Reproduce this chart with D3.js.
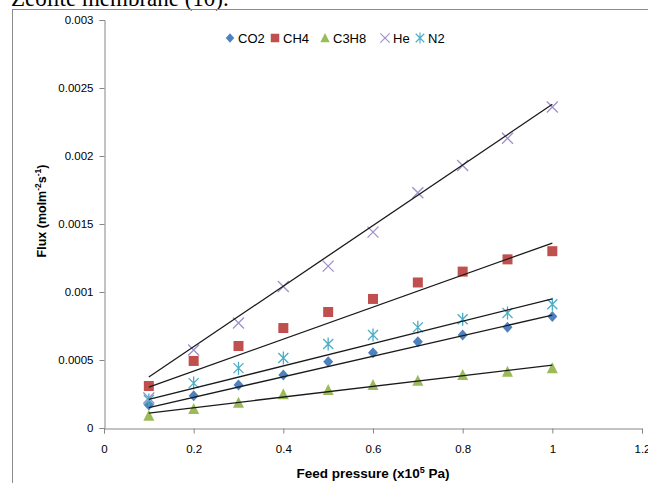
<!DOCTYPE html>
<html>
<head>
<meta charset="utf-8">
<script src="https://cdn.jsdelivr.net/npm/d3@7"></script>
<style>
  body { margin: 0; background: #fff; }
  svg { display: block; }
</style>
</head>
<body>
<script>
// Feed pressure (x10^5 Pa)
const pressure = [0.1, 0.2, 0.3, 0.4, 0.5, 0.6, 0.7, 0.8, 0.9, 1.0];

// Flux values (mol m-2 s-1)
const co2  = [0.000169, 0.000238, 0.000316, 0.00039, 0.000488, 0.000554, 0.000635, 0.000684, 0.00074, 0.000819];
const ch4  = [0.000309, 0.000493, 0.000603, 0.000735, 0.000853, 0.000949, 0.00107, 0.00115, 0.00124, 0.0013];
const c3h8 = [0.00009, 0.00014, 0.000186, 0.000248, 0.00028, 0.000316, 0.000348, 0.00039, 0.000414, 0.000439];
const he   = [0.00022, 0.000574, 0.000772, 0.00104, 0.00119, 0.00144, 0.00173, 0.00193, 0.00213, 0.00236];
const n2   = [0.000206, 0.00033, 0.00044, 0.000515, 0.000618, 0.000684, 0.00074, 0.0008, 0.000846, 0.00091];

// Linear trendline values at x = 0.1 and x = 1.0
const fitX = [0.1, 1.0];
const co2Fit  = [0.00015, 0.00083];
const ch4Fit  = [0.0003, 0.00136];
const c3h8Fit = [0.00011, 0.000463];
const heFit   = [0.000375, 0.00238];
const n2Fit   = [0.00021, 0.00095];

const seriesNames = ["CO2", "CH4", "C3H8", "He", "N2"];
const xTicks = [0, 0.2, 0.4, 0.6, 0.8, 1, 1.2];
const yTicks = [0, 0.0005, 0.001, 0.0015, 0.002, 0.0025, 0.003];

const series = [
  { name: "CO2",  values: co2,  fit: co2Fit,  shape: "diamond",  color: "#4F81BD" },
  { name: "CH4",  values: ch4,  fit: ch4Fit,  shape: "square",   color: "#C0504D" },
  { name: "C3H8", values: c3h8, fit: c3h8Fit, shape: "triangle", color: "#9BBB59" },
  { name: "He",   values: he,   fit: heFit,   shape: "x",        color: "#9F8FCB" },
  { name: "N2",   values: n2,   fit: n2Fit,   shape: "star",     color: "#4BACC6" }
];

const W = 648, H = 483;
const font = "'Liberation Sans', Arial, sans-serif";

const svg = d3.select("body").append("svg")
    .attr("width", W)
    .attr("height", H);

// Caption text from the page above, cut off at the top
svg.append("text")
    .attr("x", 11)
    .attr("y", 6)
    .style("font-family", "'Liberation Serif', 'Times New Roman', serif")
    .style("font-size", "23px")
    .text("Zeolite membrane (10).");

// Chart frame
svg.append("rect")
    .attr("x", 12.5)
    .attr("y", 9.5)
    .attr("width", 700)
    .attr("height", 600)
    .attr("fill", "none")
    .attr("stroke", "#8c8c8c")
    .attr("stroke-width", 1);

const x = d3.scaleLinear().domain([0, 1.2]).range([104, 642]);
const y = d3.scaleLinear().domain([0, 0.003]).range([428, 20]);

// Y axis
const yAxis = svg.append("g")
    .attr("transform", "translate(104.5,0)")
    .call(d3.axisLeft(y).tickValues(yTicks).tickSizeOuter(0).tickSize(5).tickPadding(6)
      .tickFormat(d => d3.format("")(+d.toFixed(4))));
yAxis.select(".domain").attr("stroke", "#868686");
yAxis.selectAll(".tick line").attr("stroke", "#868686");
yAxis.selectAll("text")
    .style("font-family", font)
    .style("font-size", "11.5px")
    .attr("fill", "#000");

// X axis
const xAxis = svg.append("g")
    .attr("transform", "translate(0,428.5)")
    .call(d3.axisBottom(x).tickValues(xTicks).tickSizeOuter(0).tickSize(5).tickPadding(11)
      .tickFormat(d3.format("")));
xAxis.select(".domain").attr("stroke", "#868686");
xAxis.selectAll(".tick line").attr("stroke", "#868686");
xAxis.selectAll("text")
    .style("font-family", font)
    .style("font-size", "11.5px")
    .attr("fill", "#000");

// Axis titles
const yTitle = svg.append("text")
    .attr("transform", "translate(46,211) rotate(-90)")
    .attr("text-anchor", "middle")
    .style("font-family", font)
    .style("font-size", "12.5px")
    .style("font-weight", "bold");
yTitle.append("tspan").text("Flux (molm");
yTitle.append("tspan").attr("dy", -5).style("font-size", "8.5px").text("-2");
yTitle.append("tspan").attr("dy", 5).text("s");
yTitle.append("tspan").attr("dy", -5).style("font-size", "8.5px").text("-1");
yTitle.append("tspan").attr("dy", 5).text(")");

const xTitle = svg.append("text")
    .attr("x", 373)
    .attr("y", 478)
    .attr("text-anchor", "middle")
    .style("font-family", font)
    .style("font-size", "13.5px")
    .style("font-weight", "bold");
xTitle.append("tspan").text("Feed pressure (x10");
xTitle.append("tspan").attr("dy", -5).style("font-size", "9px").text("5");
xTitle.append("tspan").attr("dy", 5).text(" Pa)");

// Marker drawing
function drawMarker(g, shape, color) {
  if (shape === "diamond") {
    g.append("path").attr("d", "M0,-5.5L5,0L0,5.5L-5,0Z").attr("fill", color);
  } else if (shape === "square") {
    g.append("rect").attr("x", -5).attr("y", -5).attr("width", 10).attr("height", 10).attr("fill", color);
  } else if (shape === "triangle") {
    g.append("path").attr("d", "M0,-6L5.5,5L-5.5,5Z").attr("fill", color);
  } else if (shape === "x") {
    g.append("path").attr("d", "M-5.5,-5.5L5.5,5.5M5.5,-5.5L-5.5,5.5")
        .attr("stroke", color).attr("stroke-width", 1.3).attr("fill", "none");
  } else if (shape === "star") {
    g.append("path").attr("d", "M-5,-5L5,5M5,-5L-5,5M0,-6.5L0,6.5")
        .attr("stroke", color).attr("stroke-width", 1.3).attr("fill", "none");
  }
}

// Markers
series.forEach(s => {
  svg.append("g").selectAll("g")
    .data(s.values)
    .enter().append("g")
      .attr("transform", (d, i) => `translate(${x(pressure[i])},${y(d)})`)
      .each(function() { drawMarker(d3.select(this), s.shape, s.color); });
});

// Trendlines
const line = d3.line().x((d, i) => x(fitX[i])).y(d => y(d));
series.forEach(s => {
  svg.append("path")
    .attr("d", line(s.fit))
    .attr("fill", "none")
    .attr("stroke", "#1a1a1a")
    .attr("stroke-width", 1.3);
});

// Legend
const legendPos = [230, 275, 325, 385, 420];
const legend = svg.append("g").attr("transform", "translate(0,38)");
series.forEach((s, i) => {
  const g = legend.append("g").attr("transform", `translate(${legendPos[i]},0)`);
  drawMarker(g.append("g").attr("transform", "scale(0.85)"), s.shape, s.color);
  g.append("text")
    .attr("x", 8)
    .attr("y", 5)
    .style("font-family", font)
    .style("font-size", "13px")
    .text(seriesNames[i]);
});
</script>
</body>
</html>
